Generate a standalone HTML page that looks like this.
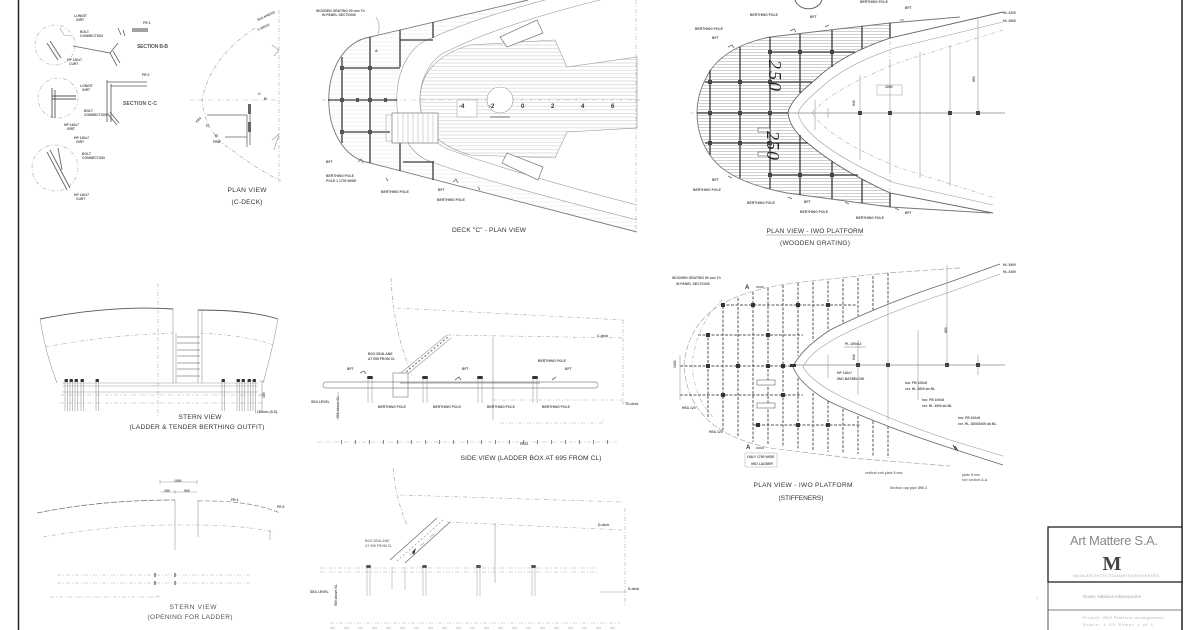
<!DOCTYPE html>
<html><head><meta charset="utf-8"><style>
html,body{margin:0;padding:0;background:#fff;overflow:hidden;}
svg{display:block;}
text{font-family:"Liberation Sans",sans-serif;}
.t{fill:#333;font-size:6.6px;}
.s{fill:#555;font-size:3.4px;font-weight:bold;}
.g{stroke:#3a3a3a;stroke-width:1.3;fill:none;}
.l{stroke:#999;stroke-width:0.6;fill:none;}
.k{stroke:#666;stroke-width:0.8;fill:none;}
.d{stroke:#aaa;stroke-width:0.6;fill:none;stroke-dasharray:4 2 1 2;}
.dd{stroke:#555;stroke-width:1;fill:none;stroke-dasharray:3 1.5;}
</style></head><body>
<svg width="1200" height="630" viewBox="0 0 1200 630" xmlns="http://www.w3.org/2000/svg">
<defs>
<pattern id="h1" width="6" height="3" patternUnits="userSpaceOnUse"><line x1="0" y1="1.5" x2="6" y2="1.5" stroke="#b0b0b0" stroke-width="0.6"/></pattern>
<pattern id="h2" width="6" height="3.6" patternUnits="userSpaceOnUse"><line x1="0" y1="1.8" x2="6" y2="1.8" stroke="#c2c2c2" stroke-width="0.5"/></pattern>
<pattern id="h3" width="6" height="4" patternUnits="userSpaceOnUse"><line x1="0" y1="2" x2="6" y2="2" stroke="#e2e2e2" stroke-width="0.5"/></pattern>
</defs>
<rect width="1200" height="630" fill="#fff"/>

<!-- frame -->
<line x1="18.5" y1="0" x2="18.5" y2="630" stroke="#222" stroke-width="1.5"/>
<line x1="1182" y1="0" x2="1182" y2="630" stroke="#222" stroke-width="1.5"/>

<!-- ============ SECTION DETAILS (top-left) ============ -->
<circle cx="55" cy="45" r="20" class="d"/>
<path d="M47 43 L58 60 M50 41 L61 58" stroke="#777" stroke-width="1.1" fill="none"/>
<path d="M60 28 L64 35 L72 36" class="l"/>
<text x="74" y="17" class="s">LONGIT</text><text x="76" y="21" class="s">GIRT</text>
<text x="80" y="33" class="s">BOLT</text><text x="80" y="37" class="s">CONNECTION</text>
<text x="67" y="61" class="s">HP 140x7</text><text x="69" y="65" class="s">CURT</text>
<path d="M73 46 L110 53 L118 43 M110 53 L117 66 M113 51 L120 63" class="k"/>
<path d="M118 28 L121 35 M123 30 L125 36" class="k"/>
<path d="M132 29 L148 29 M132 31 L148 31" stroke="#444" stroke-width="0.9"/>
<text x="143" y="24" class="s">FR 4</text>
<text x="137" y="48" class="s" style="font-size:5px" textLength="31">SECTION B-B</text>

<circle cx="58" cy="98" r="20" class="d"/>
<path d="M52 88 L52 118 M55 90 L55 118 M52 96 L76 96 M52 99 L76 99" stroke="#555" stroke-width="0.9" fill="none"/>
<text x="80" y="87" class="s">LONGIT</text><text x="82" y="91" class="s">GIRT</text>
<text x="84" y="112" class="s">BOLT</text><text x="84" y="116" class="s">CONNECTION</text>
<text x="64" y="126" class="s">HP 140x7</text><text x="67" y="130" class="s">GIRT</text>
<path d="M107 80 L107 122 M111 84 L111 122 M107 82 L147 82 M111 86 L147 86 M107 113 L117 125 M110 112 L119 123" stroke="#555" stroke-width="0.8" fill="none"/>
<text x="142" y="76" class="s">FR 4</text>
<text x="123" y="105" class="s" style="font-size:5px" textLength="34">SECTION C-C</text>

<circle cx="55" cy="168" r="23" class="d"/>
<path d="M47 152 L67 190 M50 150 L70 188 M58 148 L62 170" stroke="#666" stroke-width="0.9" fill="none"/>
<text x="74" y="139" class="s">HP 140x7</text><text x="76" y="143" class="s">GIRT</text>
<text x="82" y="155" class="s">BOLT</text><text x="82" y="159" class="s">CONNECTION</text>
<text x="74" y="196" class="s">HP 140x7</text><text x="76" y="200" class="s">CURT</text>

<!-- ============ PLAN VIEW (C-DECK) ============ -->
<path d="M255 28 Q210 58 202 100 Q205 135 235 152 Q255 168 281 181" class="d" style="stroke:#999"/>
<line x1="279" y1="10" x2="279" y2="182" class="d"/>
<line x1="190" y1="100" x2="280" y2="100" class="d"/>
<path d="M207 115 L247 115 L247 147 M250 105 L250 145 M225 137 L247 137" class="k"/>
<rect x="248" y="104" width="3" height="10" fill="#666"/>
<rect x="248" y="122" width="3" height="10" fill="#666"/>
<path d="M272 45 L279 50 L274 56 M272 140 L279 134 L274 150" class="l"/>
<text x="258" y="21" class="s" transform="rotate(-25 258 21)">BULKHEAD</text>
<text x="258" y="31" class="s" transform="rotate(-25 258 31)">C-DECK</text>
<text x="258" y="95" class="s" style="font-size:4px">C</text>
<text x="264" y="100" class="s" style="font-size:4px">B</text>
<text x="206" y="127" class="s" style="font-size:4.5px">C</text>
<text x="215" y="137" class="s" style="font-size:4px">B</text>
<text x="213" y="143" class="s">FRM</text>
<text x="197" y="123" class="s" transform="rotate(-45 197 123)">FR4</text>
<text x="247" y="192" class="t" text-anchor="middle" textLength="39">PLAN VIEW</text>
<text x="247" y="204" class="t" text-anchor="middle" textLength="31">(C-DECK)</text>

<!-- ============ DECK "C" PLAN VIEW ============ -->
<path d="M528 0 L370 37 C315 47 315 153 370 163 L637 232 L637 220 Q480 180 432 162 C385 148 385 52 432 38 Q470 20 545 0 Z" fill="url(#h3)"/>
<path d="M420 100 C420 75 435 55 470 45 L555 40 L567 67 L637 57 L637 128 L567 132 L555 158 L470 155 C435 145 420 125 420 100 Z" fill="url(#h2)" stroke="#999" stroke-width="0.6"/>
<path d="M528 0 L370 37 C315 47 315 153 370 163 L637 232" stroke="#777" stroke-width="0.9" fill="none"/>
<path d="M545 0 Q470 20 432 38 C385 52 385 148 432 162 Q480 180 637 220" class="l"/>
<path d="M600 0 Q500 25 450 50 C410 65 410 135 450 150 Q520 175 637 205" class="l"/>
<line x1="636" y1="0" x2="636" y2="232" class="d"/>
<line x1="322" y1="100" x2="640" y2="100" class="d"/>
<!-- grid -->
<g class="g">
<line x1="342" y1="57" x2="342" y2="143"/>
<line x1="370" y1="37" x2="370" y2="163"/>
<line x1="400" y1="30" x2="400" y2="67"/>
<line x1="400" y1="136" x2="400" y2="171"/>
<line x1="433" y1="22" x2="433" y2="38"/>
<line x1="433" y1="161" x2="433" y2="180"/>
<line x1="342" y1="68" x2="400" y2="68"/>
<line x1="328" y1="100" x2="397" y2="100"/>
<line x1="342" y1="132" x2="390" y2="132"/>
<line x1="400" y1="40" x2="433" y2="40"/>
<line x1="403" y1="162" x2="433" y2="162"/>
</g>
<g fill="#555">
<rect x="340" y="66" width="4" height="4"/><rect x="368" y="66" width="4" height="4"/><rect x="340" y="98" width="4" height="4"/><rect x="368" y="98" width="4" height="4"/><rect x="340" y="130" width="4" height="4"/><rect x="368" y="130" width="4" height="4"/><rect x="356" y="98" width="3" height="4"/><rect x="384" y="98" width="3" height="4"/>
</g>
<!-- stair box -->
<rect x="392" y="113" width="46" height="30" fill="#fff" stroke="#777" stroke-width="0.7"/>
<rect x="386" y="115" width="6" height="26" fill="none" stroke="#999" stroke-width="0.5"/>
<path d="M398 113 V143 M403 113 V143 M408 113 V143 M413 113 V143 M418 113 V143 M423 113 V143 M428 113 V143 M433 113 V143" stroke="#aaa" stroke-width="0.5"/>
<circle cx="500" cy="100" r="13" fill="#fff" stroke="#999" stroke-width="0.6"/>
<rect x="457" y="100" width="20" height="17" fill="#fff" stroke="#999" stroke-width="0.5"/>
<line x1="490" y1="117" x2="510" y2="117" stroke="#444" stroke-width="0.8"/>
<polygon points="500,37 537,20 543,33 507,47" fill="#fff" stroke="#777" stroke-width="0.7"/>
<polygon points="502,163 507,153 543,167 538,180" fill="#fff" stroke="#777" stroke-width="0.7"/>
<g style="font-size:6px;font-weight:bold;fill:#333">
<text x="459" y="108">-4</text><text x="489" y="108">-2</text><text x="521" y="108">0</text><text x="551" y="108">2</text><text x="581" y="108">4</text><text x="611" y="108">6</text>
</g>
<text x="316" y="12" class="s">WOODEN GRATING 50 mm Th</text>
<text x="322" y="16" class="s">IN PANEL SECTIONS</text>
<path d="M376 17 Q381 24 378 34" class="l"/>
<text x="375" y="52" class="s" style="font-size:4px">A</text>
<text x="326" y="163" class="s">BFT</text>
<text x="326" y="177" class="s">BERTHING POLE</text>
<text x="326" y="182" class="s">POLE 1 1700 WIDE</text>
<text x="381" y="193" class="s">BERTHING POLE</text>
<text x="438" y="191" class="s">BFT</text>
<text x="437" y="201" class="s">BERTHING POLE</text>
<path d="M358 162 l3 -3 l2 4 M453 182 l3 -3 l2 4 M386 178 l2 3 M478 187 l2 3" class="k"/>
<text x="489" y="232" class="t" text-anchor="middle" textLength="74">DECK "C" - PLAN VIEW</text>

<!-- ============ IWO PLATFORM - WOODEN GRATING ============ -->
<path d="M890 23 L770 37 Q730 45 712 68 Q697 90 697 113 Q697 138 712 158 Q730 182 787 193 L890 207 L890 193 Q840 170 810 145 Q790 130 788 113 Q790 100 815 80 Q840 55 890 38 Z" fill="url(#h1)"/>
<path d="M960 17 L890 23 L770 37 Q730 45 712 68 Q697 90 697 113 Q697 138 712 158 Q730 182 787 193 L890 207 L990 213" stroke="#777" stroke-width="0.9" fill="none"/>
<path d="M1003 12 L890 38 Q840 55 815 80 Q790 100 788 113 Q790 130 810 145 Q840 170 890 193 L993 213" stroke="#666" stroke-width="0.9" fill="none"/>
<path d="M1003 22 L895 48 Q845 65 822 87 Q800 105 798 113 Q800 125 818 140 Q845 162 895 183 L993 205" class="l"/>
<path d="M812 113 Q830 90 900 62 L1003 30" class="d"/>
<path d="M812 113 Q830 140 900 168 L995 198" class="d"/>
<line x1="788" y1="113" x2="1005" y2="113" class="k" style="stroke:#888"/>
<line x1="690" y1="113" x2="700" y2="113" class="d"/>
<g class="l">
<line x1="815" y1="100" x2="815" y2="130"/><line x1="828" y1="108" x2="828" y2="118"/>
<line x1="860" y1="75" x2="860" y2="160"/><line x1="890" y1="60" x2="890" y2="170"/>
<line x1="920" y1="52" x2="920" y2="178"/><line x1="950" y1="45" x2="950" y2="186"/>
<line x1="978" y1="17" x2="978" y2="113"/>
</g>
<line x1="890" y1="23" x2="890" y2="60" class="d"/>
<line x1="890" y1="170" x2="890" y2="207" class="d"/>
<g fill="#444"><rect x="858" y="111" width="4" height="4"/><rect x="888" y="111" width="4" height="4"/><rect x="948" y="111" width="4" height="4"/><rect x="976" y="111" width="4" height="4"/></g>
<rect x="877" y="85" width="25" height="10" fill="none" stroke="#999" stroke-width="0.5"/>
<text x="885" y="88" class="s">1000</text>
<text x="975" y="72" class="s" transform="rotate(-90 980 77)">850</text>
<text x="855" y="100" class="s" transform="rotate(-90 858 103)">640</text>
<g class="g">
<line x1="710" y1="70" x2="710" y2="155"/>
<line x1="740" y1="47" x2="740" y2="178"/>
<line x1="770" y1="37" x2="770" y2="189"/>
<line x1="800" y1="34" x2="800" y2="93"/>
<line x1="800" y1="135" x2="800" y2="195"/>
<line x1="832" y1="30" x2="832" y2="67"/>
<line x1="832" y1="161" x2="832" y2="199"/>
<line x1="862" y1="26" x2="862" y2="49"/>
<line x1="862" y1="179" x2="862" y2="203"/>
<line x1="890" y1="23" x2="890" y2="38"/>
<line x1="890" y1="193" x2="890" y2="207"/>
<line x1="770" y1="52" x2="855" y2="52"/>
<line x1="705" y1="82" x2="812" y2="82"/>
<line x1="697" y1="113" x2="788" y2="113"/>
<line x1="705" y1="143" x2="808" y2="143"/>
<line x1="770" y1="175" x2="858" y2="175"/>
</g>
<g fill="#444">
<rect x="708" y="80" width="4" height="4"/><rect x="738" y="80" width="4" height="4"/><rect x="768" y="80" width="4" height="4"/>
<rect x="708" y="111" width="4" height="4"/><rect x="738" y="111" width="4" height="4"/><rect x="768" y="111" width="4" height="4"/>
<rect x="708" y="141" width="4" height="4"/><rect x="738" y="141" width="4" height="4"/><rect x="768" y="141" width="4" height="4"/>
<rect x="768" y="50" width="4" height="4"/><rect x="798" y="50" width="4" height="4"/><rect x="830" y="50" width="4" height="4"/>
<rect x="768" y="173" width="4" height="4"/><rect x="798" y="173" width="4" height="4"/><rect x="830" y="173" width="4" height="4"/>
</g>
<rect x="758" y="128" width="12" height="4" fill="#fff" stroke="#555" stroke-width="0.6"/>
<rect x="758" y="152" width="12" height="4" fill="#fff" stroke="#555" stroke-width="0.6"/>
<text transform="translate(769,60) rotate(90)" style="font-family:'Liberation Serif',serif;font-style:italic;font-size:18px;letter-spacing:2px;fill:#222">250</text>
<text transform="translate(767,131) rotate(90)" style="font-family:'Liberation Serif',serif;font-style:italic;font-size:18px;letter-spacing:1px;fill:#222">250</text>
<path d="M795 0 A14 12 0 0 0 822 0" stroke="#555" stroke-width="0.9" fill="none"/>
<text x="695" y="30" class="s">BERTHING POLE</text><text x="712" y="39" class="s">BFT</text>
<text x="750" y="16" class="s">BERTHING POLE</text><text x="810" y="18" class="s">BFT</text>
<text x="860" y="3" class="s">BERTHING POLE</text><text x="905" y="9" class="s">BFT</text>
<text x="712" y="181" class="s">BFT</text><text x="693" y="191" class="s">BERTHING POLE</text>
<text x="747" y="204" class="s">BERTHING POLE</text><text x="804" y="203" class="s">BFT</text>
<text x="800" y="213" class="s">BERTHING POLE</text><text x="856" y="219" class="s">BERTHING POLE</text>
<text x="905" y="214" class="s">BFT</text>
<text x="1003" y="14" class="s">HL 3200</text><text x="1003" y="22" class="s">HL 3900</text>
<path d="M728 47 l4 -2 l2 3 M790 31 l4 -2 l2 3 M825 27 l4 -2 M900 20 l4 0 M728 176 l4 2 M788 197 l4 2 M845 202 l4 2 M895 208 l4 2" class="k"/>
<text x="815" y="233" class="t" text-anchor="middle" textLength="97">PLAN VIEW - IWO PLATFORM</text>
<line x1="766" y1="235" x2="863" y2="235" stroke="#666" stroke-width="0.4"/>
<text x="815" y="245" class="t" text-anchor="middle" textLength="70">(WOODEN GRATING)</text>

<!-- ============ STERN VIEW (LADDER & TENDER) ============ -->
<line x1="158" y1="283" x2="158" y2="417" class="d"/>
<path d="M40 319 Q110 305 173 309" stroke="#555" stroke-width="0.9" fill="none"/>
<path d="M198 310 Q250 310 278 319" stroke="#555" stroke-width="0.9" fill="none"/>
<path d="M40 319 Q45 352 57 383 M278 319 Q272 352 263 383" class="l"/>
<path d="M45 347 Q110 335 173 333 M200 333 Q250 336 273 345" class="d"/>
<path d="M173 309 V383 M176 333 V383 M198 310 V383 M202 310 V383" class="l"/>
<path d="M177 337 H200 M177 343 H200 M177 350 H200 M177 356 H200 M177 363 H200 M177 369 H200 M177 376 H200" stroke="#888" stroke-width="0.7"/>
<path d="M62 383 H258 M62 386 H258 M62 392 H258" class="l"/>
<path d="M60 395 H262 M60 403 H262" class="d"/>
<g stroke="#888" stroke-width="0.5">
<path d="M65 381 V411 M67.5 381 V411 M70 381 V411 M72.5 381 V411 M75 381 V411 M77.5 381 V411 M81 381 V411 M83.5 381 V411 M96 381 V411 M98.5 381 V411"/>
<path d="M222 381 V411 M224.5 381 V411 M237 381 V411 M239.5 381 V411 M242 381 V411 M244.5 381 V411 M248 381 V411 M250.5 381 V411 M253 381 V411 M255.5 381 V411"/>
</g>
<g fill="#333">
<rect x="64.5" y="379" width="3.5" height="3" rx="1"/><rect x="69.5" y="379" width="3.5" height="3" rx="1"/><rect x="74.5" y="379" width="3.5" height="3" rx="1"/><rect x="80.5" y="379" width="3.5" height="3" rx="1"/><rect x="95.5" y="379" width="3.5" height="3" rx="1"/>
<rect x="221.5" y="379" width="3.5" height="3" rx="1"/><rect x="236.5" y="379" width="3.5" height="3" rx="1"/><rect x="241.5" y="379" width="3.5" height="3" rx="1"/><rect x="247.5" y="379" width="3.5" height="3" rx="1"/><rect x="252.5" y="379" width="3.5" height="3" rx="1"/>
</g>
<path d="M262 381 V411 M259 381 H265 M259 395 H265" class="l"/>
<text x="263" y="400" class="s" transform="rotate(-90 263 398)">150</text>
<text x="255" y="413" class="s">/ 180mm (S.D)</text>
<text x="200" y="419" class="t" text-anchor="middle" textLength="43">STERN VIEW</text>
<text x="197" y="429" class="t" text-anchor="middle" textLength="135">(LADDER &amp; TENDER BERTHING OUTFIT)</text>

<!-- ============ STERN VIEW (OPENING FOR LADDER) ============ -->
<path d="M37 513 Q100 500 175 500" stroke="#777" stroke-width="0.8" fill="none" stroke-dasharray="6 1.5"/>
<path d="M198 501 Q250 500 280 513" stroke="#888" stroke-width="0.7" fill="none" stroke-dasharray="5 2"/>
<path d="M43 537 Q110 525 175 525 L200 525 Q250 526 273 532" class="d"/>
<path d="M175 500 V550 M198 500 V537 M270 530 V540" class="l"/>
<path d="M160 482 H197 M160 492 H197 M160 480 V484 M197 480 V484 M175 490 V494" class="l"/>
<text x="174" y="482" class="s">1000</text>
<text x="164" y="492" class="s">250</text><text x="184" y="492" class="s">500</text>
<text x="231" y="501" class="s">FR 4</text><text x="277" y="508" class="s">FR 6</text>
<path d="M57 575 H250 M57 583 H250" class="d"/>
<path d="M50 597 H160 M155 597 L160 595" class="d"/>
<g fill="#999"><rect x="154" y="573" width="2" height="4"/><rect x="174" y="573" width="2" height="4"/><rect x="154" y="581" width="2" height="4"/><rect x="174" y="581" width="2" height="4"/></g>
<text x="193" y="609" class="t" text-anchor="middle" textLength="47" style="fill:#555">STERN VIEW</text>
<text x="190" y="619" class="t" text-anchor="middle" textLength="85" style="fill:#555">(OPENING FOR LADDER)</text>

<!-- ============ SIDE VIEW (LADDER BOX) 1 ============ -->
<path d="M391 278 Q393 330 412 375" class="d" style="stroke:#999"/>
<path d="M397 308 L623 320" class="d"/>
<path d="M623 320 V405" class="d"/>
<path d="M447 335 L623 338" class="d"/>
<text x="597" y="337" class="s">C-deck</text>
<path d="M493 337 V420" class="l"/>
<path d="M397 376 L447 335 M403 378 L451 338" class="l"/>
<path d="M400 377 L449 336" stroke="#666" stroke-width="1" stroke-dasharray="2 2" fill="none"/>
<rect x="393" y="373" width="15" height="24" fill="#fff" stroke="#777" stroke-width="0.6"/>
<rect x="323" y="382" width="275" height="6" rx="3" fill="none" stroke="#888" stroke-width="0.7"/>
<line x1="400" y1="383" x2="540" y2="383" stroke="#555" stroke-width="0.6"/>
<g stroke="#888" stroke-width="0.5">
<path d="M368 378 V403 M372 378 V403 M423 378 V403 M427 378 V403 M478 378 V403 M482 378 V403 M533 378 V403 M537 378 V403"/>
</g>
<g fill="#333"><rect x="367" y="376" width="6" height="3" rx="1.5"/><rect x="422" y="376" width="6" height="3" rx="1.5"/><rect x="477" y="376" width="6" height="3" rx="1.5"/><rect x="532" y="376" width="6" height="3" rx="1.5"/></g>
<text x="378" y="408" class="s">BERTHING POLE</text><text x="433" y="408" class="s">BERTHING POLE</text>
<text x="487" y="408" class="s">BERTHING POLE</text><text x="542" y="408" class="s">BERTHING POLE</text>
<text x="347" y="370" class="s">BFT</text><text x="462" y="370" class="s">BFT</text><text x="565" y="370" class="s">BFT</text>
<text x="368" y="355" class="s">BOX SEALANE</text><text x="368" y="360" class="s">AT 695 FROM CL</text>
<text x="538" y="362" class="s">BERTHING POLE</text>
<path d="M360 373 l4 -2 l2 3 M455 380 l4 -3 l2 3 M552 380 l4 -3" class="k"/>
<text x="311" y="403" class="s">SEA LEVEL</text>
<text x="337" y="420" class="s" transform="rotate(-90 337 418)">500 above SL</text>
<line x1="338" y1="392" x2="338" y2="420" class="l"/>
<path d="M493 400 H623" class="d"/>
<text x="625" y="405" class="s">TD-deck</text>
<path d="M500 423 H603 V418" class="d"/>
<path d="M317 442 H617" class="d"/>
<g fill="#888"><rect x="341" y="440" width="1" height="4"/><rect x="355" y="440" width="1" height="4"/><rect x="369" y="440" width="1" height="4"/><rect x="383" y="440" width="1" height="4"/><rect x="397" y="440" width="1" height="4"/><rect x="411" y="440" width="1" height="4"/><rect x="425" y="440" width="1" height="4"/><rect x="439" y="440" width="1" height="4"/><rect x="453" y="440" width="1" height="4"/><rect x="467" y="440" width="1" height="4"/><rect x="481" y="440" width="1" height="4"/><rect x="495" y="440" width="1" height="4"/><rect x="509" y="440" width="1" height="4"/><rect x="523" y="440" width="1" height="4"/><rect x="537" y="440" width="1" height="4"/><rect x="551" y="440" width="1" height="4"/><rect x="565" y="440" width="1" height="4"/><rect x="579" y="440" width="1" height="4"/><rect x="593" y="440" width="1" height="4"/><rect x="607" y="440" width="1" height="4"/></g>
<text x="520" y="445" class="s">FR12</text>
<text x="531" y="460" class="t" text-anchor="middle" textLength="141">SIDE VIEW (LADDER BOX AT 695 FROM CL)</text>

<!-- ============ SIDE VIEW 2 ============ -->
<path d="M393 468 Q396 500 407 525" class="d" style="stroke:#999"/>
<path d="M400 495 L623 502" class="d"/>
<path d="M625 508 V607" class="d"/>
<path d="M447 522 L623 530" class="d"/>
<text x="598" y="526" class="s">D-deck</text>
<path d="M495 523 V583" class="l"/>
<path d="M390 560 L437 518 M405 563 L450 522" stroke="#666" stroke-width="0.7" fill="none"/>
<path d="M397 561 L443 520" stroke="#888" stroke-width="0.6" stroke-dasharray="2 2" fill="none"/>
<path d="M410 555 l4 -3 M420 546 l4 -3 M430 537 l4 -3" class="l"/>
<polygon points="412,552 416,548 414,555" fill="#333"/>
<path d="M320 568 H598 M320 572 H598" class="d"/>
<g stroke="#999" stroke-width="0.5">
<path d="M367 566 V596 M370 566 V596 M423 566 V596 M426 566 V596 M477 566 V596 M480 566 V596 M532 566 V596 M535 566 V596 M392 567 V590 M405 567 V590"/>
</g>
<g fill="#555"><rect x="366" y="565" width="5" height="3" rx="1.5"/><rect x="422" y="565" width="5" height="3" rx="1.5"/><rect x="476" y="565" width="5" height="3" rx="1.5"/><rect x="531" y="565" width="5" height="3" rx="1.5"/></g>
<text x="310" y="593" class="s">SEA LEVEL</text>
<text x="335" y="608" class="s" transform="rotate(-90 335 606)">500 above SL</text>
<text x="365" y="542" class="s" style="fill:#888">BOX SEALANE</text><text x="365" y="547" class="s" style="fill:#888">AT 695 FROM CL</text>
<text x="628" y="590" class="s">D-deck</text>
<path d="M600 592 H627" class="l"/>
<path d="M330 623 H620" class="d"/>
<path d="M330 628 H615" stroke="#ccc" stroke-width="1.2" stroke-dasharray="5 9" fill="none"/>

<!-- ============ IWO PLATFORM - STIFFENERS ============ -->
<path d="M960 268 L887 273 L793 283 Q745 290 720 305 Q688 325 684 365 Q686 400 708 420 Q730 440 770 448 L850 458 L950 466" stroke="#aaa" stroke-width="0.7" fill="none" stroke-dasharray="6 2"/>
<path d="M722 300 Q696 325 692 365 Q694 398 714 418" class="d"/>
<path d="M1000 264 L947 283 Q880 305 830 330 Q800 350 793 367 Q800 385 830 402 Q880 425 947 447 L1003 465" stroke="#666" stroke-width="0.8" fill="none"/>
<path d="M1000 274 L950 292 Q885 313 838 337 Q810 352 803 367 Q810 380 838 395 Q885 418 950 440 L1003 456" class="l"/>
<line x1="793" y1="365" x2="1005" y2="365" class="k" style="stroke:#888"/>
<g class="l">
<line x1="828" y1="355" x2="828" y2="378"/><line x1="858" y1="340" x2="858" y2="395"/><line x1="888" y1="303" x2="888" y2="420"/><line x1="918" y1="330" x2="918" y2="400"/><line x1="947" y1="265" x2="947" y2="365"/><line x1="978" y1="355" x2="978" y2="375"/>
</g>
<g fill="#444"><rect x="886" y="363" width="4" height="4"/><rect x="945" y="363" width="4" height="4"/><rect x="976" y="363" width="4" height="4"/><rect x="856" y="363" width="4" height="4"/></g>
<g class="dd">
<line x1="708" y1="333" x2="708" y2="417"/>
<line x1="723" y1="306" x2="723" y2="430"/>
<line x1="738" y1="298" x2="738" y2="437"/>
<line x1="753" y1="292" x2="753" y2="442"/>
<line x1="768" y1="288" x2="768" y2="445"/>
<line x1="783" y1="285" x2="783" y2="447"/>
<line x1="798" y1="283" x2="798" y2="356"/><line x1="798" y1="378" x2="798" y2="449"/>
<line x1="813" y1="282" x2="813" y2="341"/><line x1="813" y1="393" x2="813" y2="451"/>
<line x1="828" y1="281" x2="828" y2="331"/><line x1="828" y1="401" x2="828" y2="452"/>
<line x1="843" y1="279" x2="843" y2="323"/><line x1="843" y1="409" x2="843" y2="453"/>
<line x1="858" y1="278" x2="858" y2="316"/><line x1="858" y1="416" x2="858" y2="454"/>
<line x1="873" y1="276" x2="873" y2="310"/><line x1="873" y1="421" x2="873" y2="456"/>
<line x1="888" y1="273" x2="888" y2="303"/><line x1="888" y1="426" x2="888" y2="458"/>
<line x1="722" y1="305" x2="857" y2="305"/>
<line x1="698" y1="335" x2="803" y2="335"/>
<line x1="680" y1="366" x2="793" y2="366"/>
<line x1="680" y1="395" x2="803" y2="395"/>
<line x1="753" y1="425" x2="860" y2="425"/>
</g>
<g fill="#333">
<rect x="706" y="364" width="4" height="4"/><rect x="736" y="364" width="4" height="4"/><rect x="766" y="364" width="4" height="4"/><rect x="781" y="364" width="4" height="4"/>
<rect x="721" y="303" width="4" height="4"/><rect x="751" y="303" width="4" height="4"/><rect x="796" y="303" width="4" height="4"/><rect x="826" y="303" width="4" height="4"/>
<rect x="706" y="333" width="4" height="4"/><rect x="766" y="333" width="4" height="4"/><rect x="721" y="393" width="4" height="4"/><rect x="781" y="393" width="4" height="4"/>
<rect x="796" y="423" width="4" height="4"/><rect x="826" y="423" width="4" height="4"/><rect x="756" y="423" width="4" height="4"/>
<rect x="790" y="364" width="6" height="3"/>
</g>
<rect x="757" y="380" width="18" height="5" fill="#fff" stroke="#666" stroke-width="0.6"/>
<rect x="757" y="403" width="18" height="5" fill="#fff" stroke="#666" stroke-width="0.6"/>
<path d="M680 355 V400" class="l"/>
<text x="676" y="364" class="s" transform="rotate(-90 678 366)">1000</text>
<text x="745" y="289" style="font-size:6px;font-weight:bold;fill:#333">A</text>
<text x="746" y="449" style="font-size:6px;font-weight:bold;fill:#333">A</text>
<path d="M756 287 H764 M756 448 H764" stroke="#333" stroke-width="0.8"/>
<text x="672" y="279" class="s">WOODEN GRATING 50 mm Th</text>
<text x="676" y="285" class="s">IN PANEL SECTIONS</text>
<text x="845" y="345" class="s">PL 150x12</text><line x1="844" y1="347" x2="866" y2="347" stroke="#666" stroke-width="0.4"/>
<text x="837" y="374" class="s">HP 140x7</text><text x="837" y="380" class="s">IWO BATBELOW</text>
<text x="905" y="384" class="s">hor. FB 100x8</text><text x="905" y="390" class="s">ver. HL 3800 ab BL</text>
<text x="922" y="401" class="s">hor. FB 100x8</text><text x="922" y="407" class="s">ver. HL 3500 ab BL</text>
<text x="958" y="419" class="s">hor. FB 100x8</text><text x="958" y="425" class="s">ver. HL 1800/3400 ab BL</text>
<rect x="745" y="453" width="32" height="14" fill="none" stroke="#999" stroke-width="0.4"/>
<text x="747" y="458" class="s">ONLY 1750 WIDE</text><text x="751" y="465" class="s">IWO LADDER</text>
<text x="865" y="474" class="s" style="fill:#777">vertical end plate 8 mm</text>
<text x="890" y="489" class="s" style="fill:#777">Section cap pipe Ø60.3</text>
<text x="962" y="476" class="s" style="fill:#777">plate 8 mm</text><text x="962" y="481" class="s" style="fill:#777">see section A-A</text>
<text x="682" y="409" class="s">HEA 120</text><text x="709" y="433" class="s">HEA 120</text>
<text x="1003" y="266" class="s">HL 3900</text><text x="1003" y="273" class="s">HL 3400</text>
<text x="940" y="330" class="s" transform="rotate(-90 945 328)">850</text>
<text x="852" y="355" class="s" transform="rotate(-90 856 356)">640</text>
<path d="M953 445 l3 5 M955 446 l3 5" stroke="#333" stroke-width="0.9"/>
<text x="803" y="487" class="t" text-anchor="middle" textLength="99">PLAN VIEW - IWO PLATFORM</text>
<text x="801" y="500" class="t" text-anchor="middle" textLength="45">(STIFFENERS)</text>

<!-- ============ TITLE BLOCK ============ -->
<rect x="1048" y="527" width="134" height="55" fill="#fff" stroke="#222" stroke-width="1.3"/>
<line x1="1048" y1="582" x2="1048" y2="630" stroke="#444" stroke-width="0.9"/>
<line x1="1048" y1="610" x2="1182" y2="610" stroke="#555" stroke-width="0.8"/>
<text x="1114" y="545" text-anchor="middle" style="font-size:13px;fill:#8a8a8a" textLength="88">Art Mattere S.A.</text>
<text x="1112" y="570" text-anchor="middle" style="font-size:20px;font-weight:bold;fill:#444;font-family:'Liberation Serif',serif">M</text>
<text x="1116" y="577" text-anchor="middle" style="font-size:3.5px;fill:#aaa" textLength="86">N A V A L   A R C H I T E C T S  &amp;  M A R I N E   E N G I N E E R S</text>
<text x="1083" y="598" style="font-size:4.5px;fill:#aaa" textLength="58">Drawn: Nikolaos Adamopoulos</text>
<text x="1083" y="619" style="font-size:4px;fill:#aaa" textLength="80">Project: IWO Platform arrangement</text>
<text x="1083" y="626" style="font-size:4px;fill:#aaa" textLength="70">Scale: 1:50  Sheet 1 of 1</text>
<text x="1036" y="599" style="font-size:4px;fill:#bbb">1</text>
</svg>
</body></html>
